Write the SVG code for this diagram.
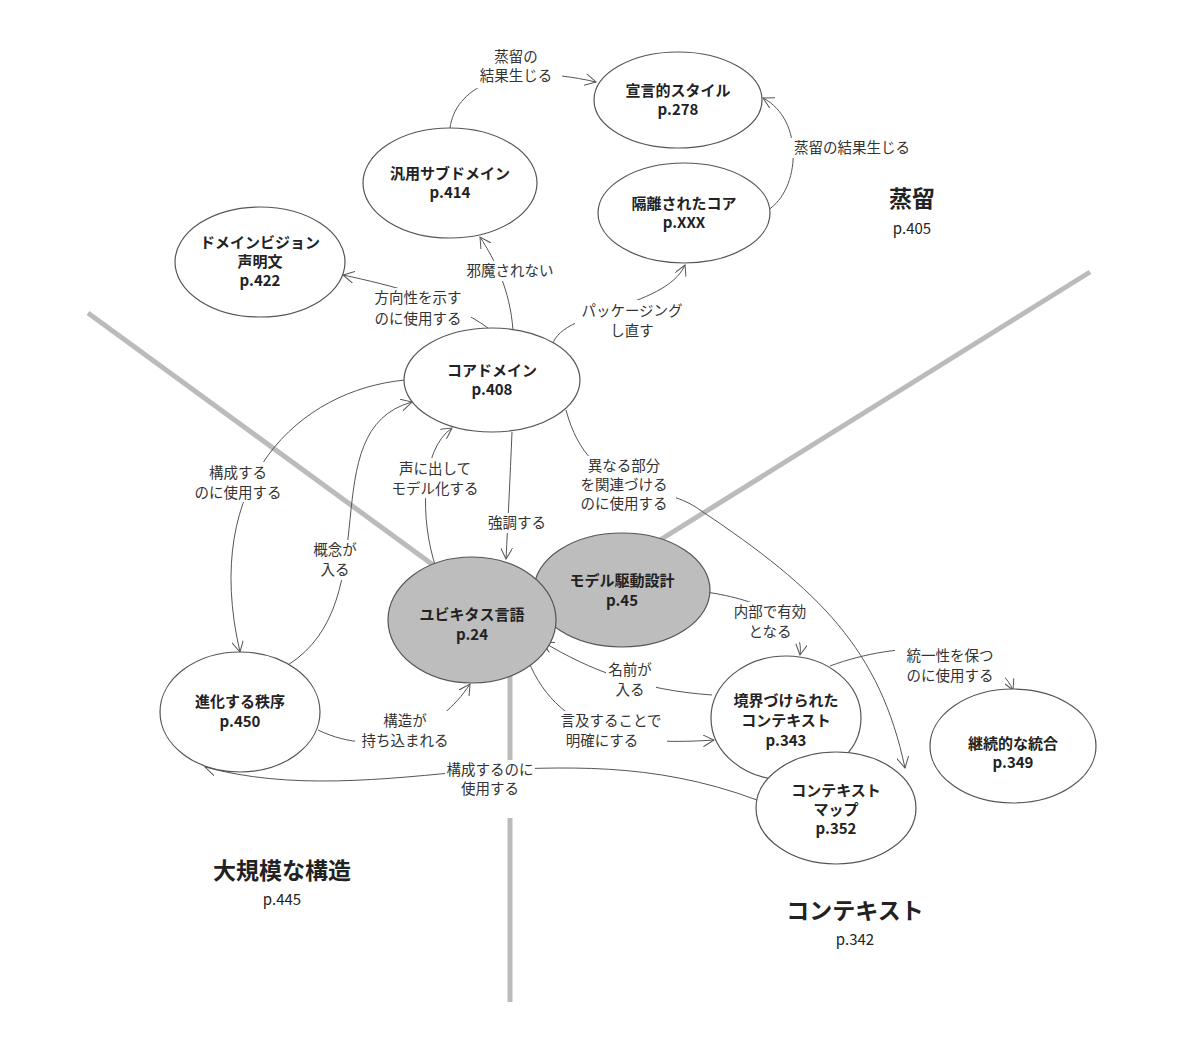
<svg xmlns="http://www.w3.org/2000/svg" width="1190" height="1048" viewBox="0 0 1190 1048">
<style>
text{font-family:"Noto Sans CJK JP","Liberation Sans",sans-serif;text-anchor:middle;fill:#222}
.n{font-size:15px;font-weight:bold}
.l{font-size:14.5px;fill:#333}
.r{font-size:23px;font-weight:bold}
.rp{font-size:15px}
ellipse{stroke:#555;stroke-width:1.2;fill:#fff}
.g ellipse{fill:#bdbdbd}
.e path{fill:none;stroke:#555;stroke-width:1;marker-end:url(#a)}
.zone{stroke:#bbb;stroke-width:5;fill:none}
.bg{fill:#fff;stroke:none}
</style>
<defs><marker id="a" viewBox="0 0 12 12" refX="11" refY="6" markerWidth="12" markerHeight="12" markerUnits="userSpaceOnUse" orient="auto"><path d="M0,0 L11,6 L0,12" fill="none" stroke="#555" stroke-width="1"/></marker></defs>
<rect width="1190" height="1048" fill="#fff"/>
<g id="zones">
<path class="zone" d="M88,313 L440,570"/>
<path class="zone" d="M1090,272 L660,540"/>
<path class="zone" d="M510,665 L510,770 M510,818 L510,1002"/>
</g>
<g id="connectors" class="e">
<path d="M450,128 C455,90 500,60 596,82"/>
<path d="M768,210 C800,190 805,120 763,98"/>
<path d="M513,330 C510,290 495,260 480,237"/>
<path d="M488,328 C450,300 390,285 343,275"/>
<path d="M552,348 C555,310 665,310 685,265"/>
<path d="M405,380 C300,390 200,480 240,652"/>
<path d="M288,665 C390,600 310,430 412,402"/>
<path d="M436,568 C420,520 420,450 452,428"/>
<path d="M512,432 C510,480 508,520 506,559"/>
<path d="M566,410 C590,500 660,480 700,510 C820,590 880,650 905,768"/>
<path d="M706,592 C760,600 805,620 800,655"/>
<path d="M712,695 C640,690 590,670 543,642"/>
<path d="M528,660 C560,740 640,745 714,740"/>
<path d="M830,666 C900,640 990,640 1013,690"/>
<path d="M318,730 C380,760 440,730 470,684"/>
<path d="M757,800 C650,760 560,768 480,770 C380,780 290,790 205,767"/>
</g>
<g id="labels">
<rect class="bg" x="470" y="48" width="92" height="40"/>
<text class="l" x="516" y="62">蒸留の</text><text class="l" x="516" y="81">結果生じる</text>
<rect class="bg" x="788" y="138" width="128" height="20"/>
<text class="l" x="852" y="153">蒸留の結果生じる</text>
<rect class="bg" x="460" y="261" width="100" height="20"/>
<text class="l" x="510" y="276">邪魔されない</text>
<rect class="bg" x="365" y="288" width="106" height="42"/>
<text class="l" x="418" y="303">方向性を示す</text><text class="l" x="418" y="324">のに使用する</text>
<rect class="bg" x="575" y="300" width="115" height="42"/>
<text class="l" x="632" y="316">パッケージング</text><text class="l" x="632" y="336">し直す</text>
<rect class="bg" x="195" y="462" width="88" height="40"/>
<text class="l" x="238" y="478">構成する</text><text class="l" x="238" y="498">のに使用する</text>
<rect class="bg" x="310" y="540" width="50" height="40"/>
<text class="l" x="335" y="555">概念が</text><text class="l" x="335" y="575">入る</text>
<rect class="bg" x="385" y="458" width="100" height="40"/>
<text class="l" x="435" y="474">声に出して</text><text class="l" x="435" y="494">モデル化する</text>
<rect class="bg" x="485" y="513" width="65" height="20"/>
<text class="l" x="517" y="528">強調する</text>
<rect class="bg" x="572" y="456" width="104" height="58"/>
<text class="l" x="624" y="471">異なる部分</text><text class="l" x="624" y="490">を関連づける</text><text class="l" x="624" y="509">のに使用する</text>
<rect class="bg" x="733" y="602" width="75" height="40"/>
<text class="l" x="770" y="617">内部で有効</text><text class="l" x="770" y="637">となる</text>
<rect class="bg" x="606" y="660" width="50" height="40"/>
<text class="l" x="630" y="675">名前が</text><text class="l" x="630" y="695">入る</text>
<rect class="bg" x="555" y="711" width="112" height="40"/>
<text class="l" x="611" y="726">言及することで</text><text class="l" x="602" y="746">明確にする</text>
<rect class="bg" x="895" y="646" width="110" height="40"/>
<text class="l" x="950" y="661">統一性を保つ</text><text class="l" x="950" y="681">のに使用する</text>
<rect class="bg" x="355" y="711" width="100" height="40"/>
<text class="l" x="405" y="726">構造が</text><text class="l" x="405" y="746">持ち込まれる</text>
<rect class="bg" x="445" y="760" width="90" height="40"/>
<text class="l" x="490" y="775">構成するのに</text><text class="l" x="490" y="794">使用する</text>
</g>
<g id="n-decl"><ellipse cx="678" cy="100" rx="84" ry="48"/><text class="n" x="678" y="96">宣言的スタイル</text><text class="n" x="678" y="115">p.278</text></g>
<g id="n-generic"><ellipse cx="450" cy="183" rx="87" ry="55"/><text class="n" x="450" y="179">汎用サブドメイン</text><text class="n" x="450" y="198">p.414</text></g>
<g id="n-segregated"><ellipse cx="684" cy="213" rx="86" ry="50"/><text class="n" x="684" y="209">隔離されたコア</text><text class="n" x="684" y="228">p.XXX</text></g>
<g id="n-vision"><ellipse cx="260" cy="262" rx="85" ry="55"/><text class="n" x="260" y="248">ドメインビジョン</text><text class="n" x="260" y="267">声明文</text><text class="n" x="260" y="286">p.422</text></g>
<g id="n-core"><ellipse cx="492" cy="380" rx="88" ry="52"/><text class="n" x="492" y="376">コアドメイン</text><text class="n" x="492" y="395">p.408</text></g>
<g id="n-mdd" class="g"><ellipse cx="622" cy="590" rx="88" ry="57"/><text class="n" x="622" y="586">モデル駆動設計</text><text class="n" x="622" y="606">p.45</text></g>
<g id="n-ul" class="g"><ellipse cx="472" cy="620" rx="84" ry="63"/><text class="n" x="472" y="620">ユビキタス言語</text><text class="n" x="472" y="640">p.24</text></g>
<g id="n-evolving"><ellipse cx="240" cy="712" rx="80" ry="60"/><text class="n" x="240" y="707">進化する秩序</text><text class="n" x="240" y="727">p.450</text></g>
<g id="n-bc"><ellipse cx="786" cy="718" rx="75" ry="62"/><text class="n" x="786" y="706">境界づけられた</text><text class="n" x="786" y="726">コンテキスト</text><text class="n" x="786" y="746">p.343</text></g>
<g id="n-map"><ellipse cx="836" cy="808" rx="80" ry="56"/><text class="n" x="836" y="796">コンテキスト</text><text class="n" x="836" y="815">マップ</text><text class="n" x="836" y="834">p.352</text></g>
<g id="n-ci"><ellipse cx="1013" cy="746" rx="83" ry="57"/><text class="n" x="1013" y="749">継続的な統合</text><text class="n" x="1013" y="768">p.349</text></g>
<g id="regions">
<text class="r" x="912" y="207">蒸留</text><text class="rp" x="912" y="234">p.405</text>
<text class="r" x="282" y="879">大規模な構造</text><text class="rp" x="282" y="905">p.445</text>
<text class="r" x="855" y="919">コンテキスト</text><text class="rp" x="855" y="945">p.342</text>
</g>
</svg>
